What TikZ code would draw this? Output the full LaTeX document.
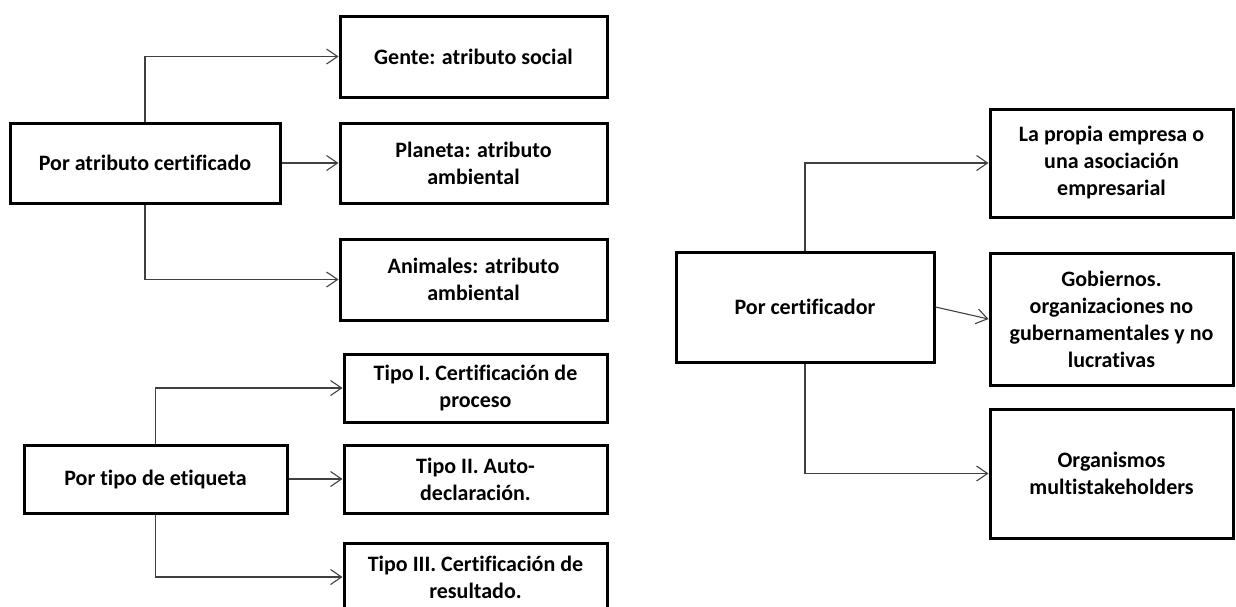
\documentclass[tikz,border=0pt]{standalone}
\usepackage{fontspec}
\setmainfont{Carlito}[Ligatures={NoCommon}]
\usetikzlibrary{arrows.meta}

\tikzset{
    catbox/.style={thick, draw, rectangle, line width=1.5pt, align=center, inner sep=0pt,
        font=\bfseries\fontsize{11}{13.5}\selectfont},
    conn/.style={draw=black!75, line width=0.55pt, -{Straight Barb[length=5.5pt,width=7.5pt]}}
}

\begin{document}
\begin{tikzpicture}[x=0.5pt, y=-0.5pt]
    \useasboundingbox (0, 0) rectangle (1236, 606);
    \clip (0, 0) rectangle (1236, 606);

    % por atributo certificado
    \node[catbox, minimum width=135pt, minimum height=40pt] at (145, 163) (catAtrib) {Por atributo certificado};
    \node[catbox, minimum width=133.5pt, minimum height=40.5pt] at (473.5, 56.5) (gente) {Gente: atributo social};
    \node[catbox, minimum width=133.5pt, minimum height=40pt] at (473.5, 163) (planeta) {Planeta: atributo\\ambiental};
    \node[catbox, minimum width=133.5pt, minimum height=40.5pt] at (473.5, 279.5) (animales) {Animales: atributo\\ambiental};

    % por tipo de etiqueta
    \node[catbox, minimum width=131.5pt, minimum height=34pt] at (155.5, 479) (catTipo) {Por tipo de etiqueta};
    \node[catbox, minimum width=131.5pt, minimum height=34pt] at (475.5, 388) (tipoI) {Tipo I. Certificación de\\proceso};
    \node[catbox, minimum width=131.5pt, minimum height=34pt] at (475.5, 479) (tipoII) {Tipo II. Auto-\\declaración.};
    \node[catbox, minimum width=131.5pt, minimum height=34pt] at (475.5, 577) (tipoIII) {Tipo III. Certificación de\\resultado.};

    % por certificador
    \node[catbox, minimum width=129pt, minimum height=55pt] at (805, 307) (catCert) {Por certificador};
    \node[catbox, minimum width=121.5pt, minimum height=54pt] at (1111.5, 163) (propia) {La propia empresa o\\una asociación\\empresarial};
    \node[catbox, minimum width=121.5pt, minimum height=66pt] at (1111.5, 319) (gobiernos) {Gobiernos.\\organizaciones no\\gubernamentales y no\\lucrativas};
    \node[catbox, minimum width=121.5pt, minimum height=64.5pt] at (1111.5, 473.5) (organismos) {Organismos\\multistakeholders};

    \draw[conn] (catAtrib.north) |- (gente.west);
    \draw[conn] (catAtrib.east) -- (planeta.west);
    \draw[conn] (catAtrib.south) |- (animales.west);

    \draw[conn] (catTipo.north) |- (tipoI.west);
    \draw[conn] (catTipo.east) -- (tipoII.west);
    \draw[conn] (catTipo.south) |- (tipoIII.west);

    \draw[conn] (catCert.north) |- (propia.west);
    \draw[conn] (catCert.east) -- (gobiernos.west);
    \draw[conn] (catCert.south) |- (organismos.west);
\end{tikzpicture}
\end{document}
